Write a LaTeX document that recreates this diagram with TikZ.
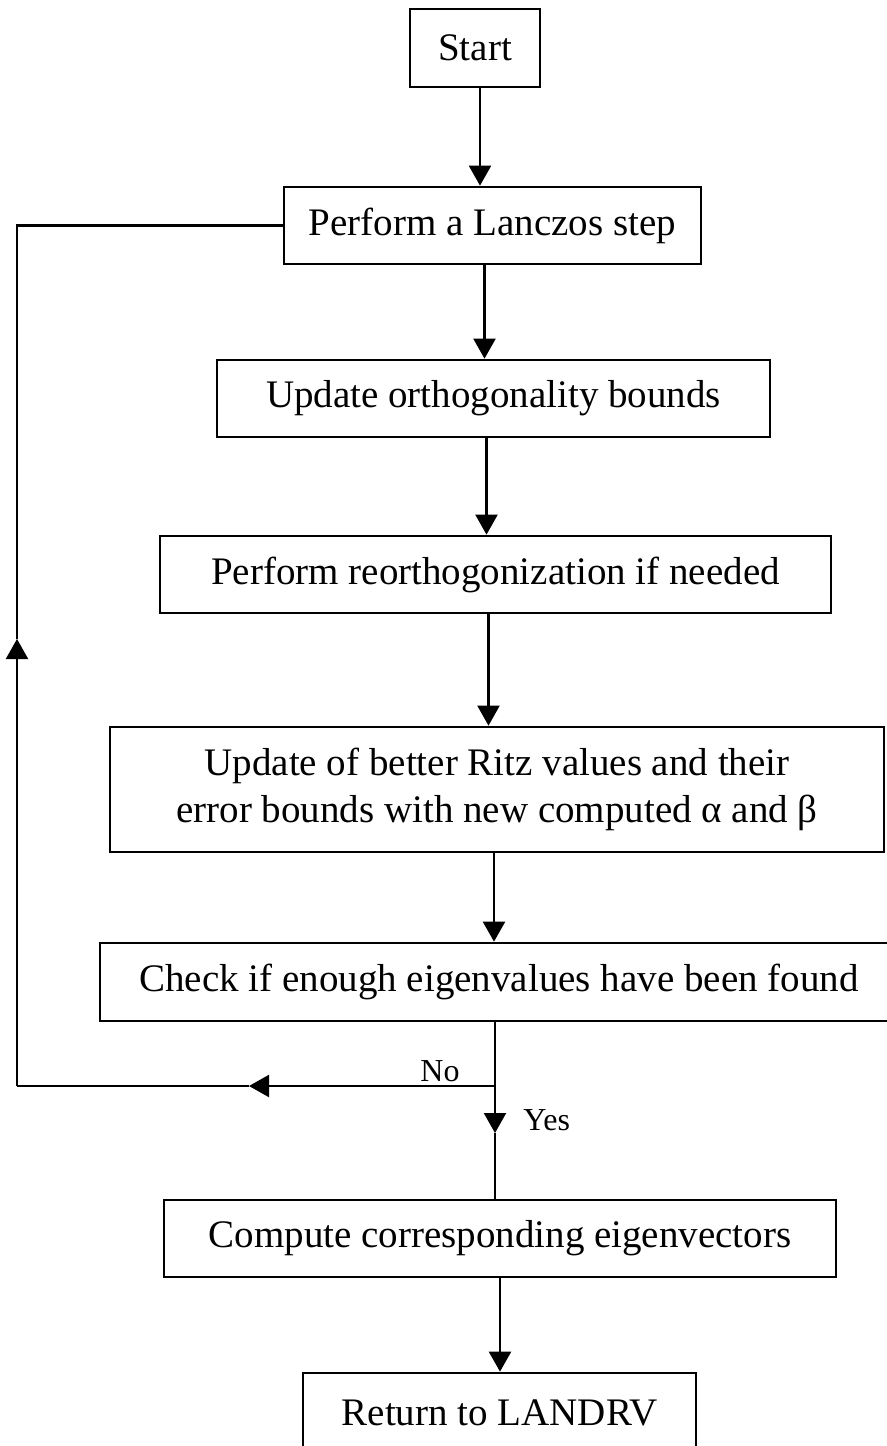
\documentclass[tikz,border=0pt]{standalone}
\usepackage{fontspec}
\setmainfont{Liberation Serif}
\usetikzlibrary{arrows.meta}

\begin{document}
\begin{tikzpicture}[x=0.5pt,y=-0.5pt,
  box/.style={draw=black, line width=1.35pt, rectangle, inner sep=0pt,
    align=center, font=\fontsize{19.5}{23.5}\selectfont},
  conn/.style={line width=1.1pt},
  arr/.style={conn, -{Triangle[width=11pt,length=10pt]}},
  lbl/.style={inner sep=0pt, font=\fontsize{16}{19}\selectfont}]

% page frame
\clip (0,0) rectangle (887,1446);
\fill[white] (0,0) rectangle (887,1446);

% process boxes
\node[box, minimum width=65pt,    minimum height=39pt]   (start)   at (475,48)     {Start};
\node[box, minimum width=208.5pt, minimum height=38.5pt] (lanczos) at (492.5,225.5) {Perform a Lanczos step};
\node[box, minimum width=276.5pt, minimum height=38.5pt] (ortho)   at (493.5,398.5) {Update orthogonality bounds};
\node[box, minimum width=335.5pt, minimum height=38.5pt] (reorth)  at (495.5,574.5) {Perform reorthogonization if needed};
\node[box, minimum width=387pt,   minimum height=62.5pt] (ritz)    at (497,789.5)   {Update of better Ritz values and their\\error bounds with new computed α and β};
\node[box, minimum width=399pt,   minimum height=39pt]   (check)   at (499,982)     {Check if enough eigenvalues have been found};
\node[box, minimum width=336pt,   minimum height=38.5pt] (compute) at (500,1238.5) {Compute corresponding eigenvectors};
\node[box, minimum width=196.5pt, minimum height=40pt]   (ret)     at (499.5,1413)  {Return to LANDRV};

% main flow
\draw[arr] ([xshift=2.5pt]start.south) -- ([xshift=2.5pt]start.south |- lanczos.north);
\draw[arr] ([xshift=-4pt]lanczos.south) -- ([xshift=-4pt]lanczos.south |- ortho.north);
\draw[arr] ([xshift=-3.5pt]ortho.south) -- ([xshift=-3.5pt]ortho.south |- reorth.north);
\draw[arr] ([xshift=-3.5pt]reorth.south) -- ([xshift=-3.5pt]reorth.south |- ritz.north);
\draw[arr] ([xshift=-1.5pt]ritz.south) -- ([xshift=-1.5pt]ritz.south |- check.north);

% decision: yes branch
\coordinate (junc)   at (495,1086);
\coordinate (yestip) at (495,1133);
\draw[arr] ([xshift=-2pt]check.south) -- (yestip);
\draw[conn] (yestip) -- (yestip |- compute.north);
\draw[arr] (compute.south) -- (compute.south |- ret.north);

% decision: no branch, looping back
\coordinate (notip)  at (249,1086);
\coordinate (lowl)   at (17,1086);
\coordinate (uptip)  at (17,639);
\coordinate (topl)   at (17,225.5);
\draw[arr] (junc) -- (notip);
\draw[conn] (notip) -- (lowl);
\draw[arr] (lowl) -- (uptip);
\draw[conn] (uptip) -- (topl) -- (lanczos.west);

% branch labels
\node[lbl, anchor=base] (nolbl) at (440,1081) {No};
\node[lbl, anchor=base west] (yeslbl) at (523,1130) {Yes};
\end{tikzpicture}
\end{document}
